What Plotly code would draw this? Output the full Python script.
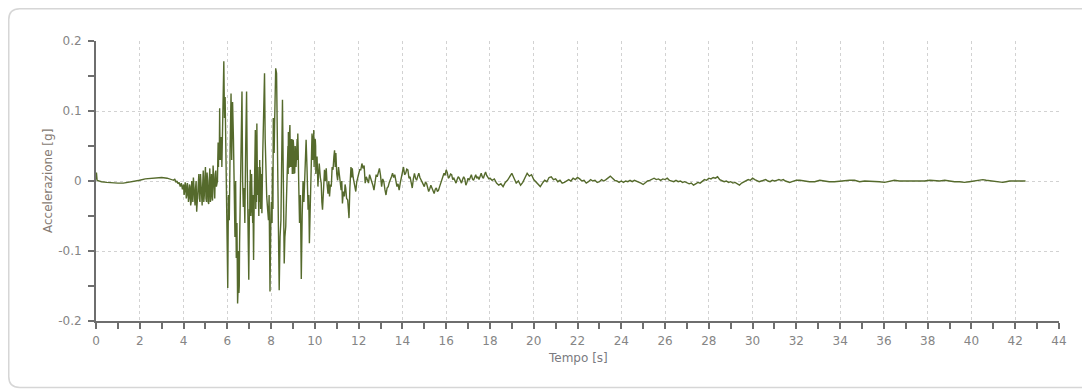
import plotly.graph_objects as go

# ---------------- data ----------------
pre_t = [0.0, 0.02, 0.05, 0.25, 0.5, 0.75, 1.0, 1.25, 1.5, 1.75, 2.0, 2.25, 2.5, 2.75, 3.0, 3.25]
pre_a = [0.002, 0.012, 0.001, -0.001, -0.002, -0.003, -0.003, -0.003, -0.002, -0.001, 0.001, 0.003,
         0.004, 0.005, 0.005, 0.004]

onset_t = [3.5, 3.55, 3.6, 3.65, 3.7, 3.75, 3.8, 3.85, 3.9, 3.95, 4.0, 4.05, 4.1, 4.15, 4.2, 4.25,
           4.3, 4.35, 4.4, 4.45, 4.5, 4.55, 4.6, 4.65, 4.7, 4.75, 4.8, 4.85, 4.9, 4.95, 5.0, 5.05,
           5.1, 5.15, 5.2, 5.25, 5.3, 5.35, 5.4, 5.45, 5.5]
onset_a = [0.002, 0.001, 0.003, -0.002, 0.0, -0.004, -0.002, -0.008, -0.003, -0.012, -0.005, -0.015,
           -0.006, -0.02, -0.01, -0.025, -0.008, -0.03, -0.012, 0.005, -0.028, -0.01, -0.044, -0.015,
           0.01, -0.03, -0.005, -0.035, 0.015, -0.02, 0.02, -0.03, 0.0, -0.033, 0.018, -0.025,
           -0.005, 0.022, -0.02, 0.01, -0.008]

strong_t = [5.55, 5.58, 5.62, 5.65, 5.68, 5.72, 5.76, 5.80, 5.84, 5.87, 5.90, 5.94, 5.98, 6.02, 6.05,
            6.09, 6.13, 6.17, 6.20, 6.24, 6.28, 6.31, 6.35, 6.38, 6.41, 6.44, 6.47, 6.50, 6.53, 6.56,
            6.60, 6.63, 6.67, 6.70, 6.73, 6.77, 6.80, 6.84, 6.88, 6.91, 6.94, 6.98, 7.01, 7.05, 7.08,
            7.11, 7.13, 7.16, 7.20, 7.23, 7.26, 7.28, 7.31, 7.35, 7.39, 7.43, 7.46, 7.50, 7.53, 7.56,
            7.58, 7.62, 7.66, 7.70, 7.73, 7.76, 7.80, 7.84, 7.88, 7.91, 7.95, 7.99, 8.03, 8.06, 8.10,
            8.14, 8.18, 8.21, 8.25, 8.28, 8.30, 8.34, 8.37, 8.41, 8.45, 8.48, 8.52, 8.56, 8.60, 8.63,
            8.67, 8.71, 8.75, 8.79, 8.83, 8.86, 8.90, 8.93, 8.97, 9.01, 9.05, 9.08, 9.12, 9.16, 9.19,
            9.22, 9.26, 9.30, 9.34, 9.38, 9.42, 9.46, 9.50, 9.55, 9.60, 9.64, 9.69, 9.72, 9.75, 9.78,
            9.80, 9.84, 9.87, 9.91, 9.95, 9.98, 10.02, 10.06, 10.10, 10.14, 10.17, 10.20, 10.25,
            10.29, 10.32, 10.35, 10.40, 10.44, 10.48, 10.52, 10.56, 10.60, 10.64, 10.67, 10.71,
            10.75, 10.79, 10.83, 10.87, 10.90, 10.93, 10.96, 11.00, 11.04, 11.08, 11.11, 11.15,
            11.20, 11.23, 11.26, 11.30, 11.35, 11.38, 11.41, 11.45, 11.50, 11.53, 11.56, 11.60,
            11.65, 11.68, 11.71, 11.75, 11.80, 11.84, 11.87, 11.91, 11.94, 12.00, 12.05]
strong_a = [0.0, 0.055, 0.03, 0.104, 0.045, 0.063, 0.04, 0.15, 0.171, 0.09, 0.12, 0.03, -0.06, -0.153,
            -0.02, -0.056, 0.05, 0.125, 0.03, 0.113, 0.06, -0.03, -0.08, 0.0, -0.11, -0.06, -0.175,
            -0.12, -0.16, -0.09, -0.065, 0.02, 0.128, 0.0, -0.037, -0.01, -0.06, 0.05, 0.128, 0.02,
            -0.07, -0.141, -0.04, 0.016, -0.03, 0.01, -0.027, -0.06, -0.113, -0.02, 0.03, 0.073,
            -0.01, 0.082, 0.01, -0.022, 0.03, 0.02, -0.03, 0.01, -0.046, 0.04, 0.125, 0.154, 0.06,
            0.02, -0.022, -0.04, -0.056, -0.02, -0.158, -0.05, -0.046, 0.02, 0.09, 0.04, 0.13, 0.161,
            0.154, 0.08, 0.03, -0.04, -0.156, -0.08, -0.056, 0.02, 0.116, 0.0, -0.118, -0.08, -0.065,
            -0.01, 0.03, 0.07, 0.02, 0.08, 0.03, 0.04, 0.01, 0.059, 0.02, 0.011, 0.04, 0.035, 0.06,
            0.068, 0.0, -0.06, -0.02, -0.14, -0.05, 0.0, -0.03, 0.03, 0.059, 0.02, -0.041, -0.02,
            -0.089, -0.05, -0.027, 0.03, 0.068, 0.05, 0.073, 0.04, 0.059, 0.02, 0.035, -0.008, 0.01,
            0.025, 0.005, -0.003, -0.03, -0.041, -0.01, 0.016, 0.0, 0.018, -0.005, -0.018, 0.0,
            -0.022, -0.005, -0.008, 0.02, 0.016, 0.035, 0.044, 0.02, 0.04, 0.01, 0.001, 0.02, 0.011,
            -0.005, -0.013, 0.0, -0.032, -0.015, -0.022, -0.005, -0.01, -0.025, -0.027, -0.04, -0.053,
            -0.01, 0.02, 0.005, 0.018, 0.005, -0.003, -0.01, -0.015, -0.002, 0.001, 0.01, 0.016]

# extra high-frequency samples inside the dense (thick-looking) bands of the record
band_t = [4.025, 4.075, 4.125, 4.175, 4.225, 4.275, 4.325, 4.375, 4.425, 4.475, 4.525, 4.575, 4.625,
          4.675, 4.725, 4.775, 4.825, 4.875, 4.925, 4.975, 5.025, 5.075, 5.125, 5.175, 5.225, 5.275,
          5.325, 5.375, 5.425, 5.475,
          5.565, 5.57, 5.595, 5.605, 5.635, 5.66, 5.67, 5.695, 5.705, 5.74, 5.75, 5.78,
          6.455, 6.485, 6.515, 6.545, 6.575,
          7.015, 7.025, 7.035, 7.045, 7.065, 7.075, 7.09, 7.10, 7.12, 7.145, 7.17, 7.185, 7.215,
          7.24, 7.25, 7.295, 7.30, 7.32, 7.33, 7.37, 7.38, 7.40, 7.41, 7.42, 7.44, 7.45, 7.47, 7.48,
          7.49, 7.51, 7.52, 7.54, 7.55, 7.57,
          8.015, 8.045, 8.075, 8.085, 8.12, 8.16,
          8.69, 8.73, 8.77, 8.78, 8.81, 8.82, 8.845, 8.85, 8.875, 8.885, 8.915, 8.925, 8.95, 8.96,
          8.99, 9.00, 9.03, 9.04, 9.065, 9.10, 9.14, 9.175, 9.205, 9.235,
          9.855, 9.885, 9.895, 9.925, 9.935, 9.965, 9.99, 10.00, 10.035, 10.045]
band_a = [-0.02, -0.002, -0.025, -0.003, -0.03, -0.005, -0.035, 0.0, -0.03, -0.015, -0.035, 0.0,
          -0.03, -0.002, -0.025, 0.01, -0.03, -0.005, -0.03, 0.005, -0.025, 0.012, -0.03, 0.0,
          -0.03, 0.01, -0.028, 0.0, -0.025, 0.015,
          0.03, 0.05, 0.02, 0.05, 0.04, 0.07, 0.03, 0.06, 0.03, 0.05, 0.02, 0.07,
          -0.1, -0.16, -0.1, -0.15, -0.06,
          -0.01, -0.05, 0.0, -0.04, -0.01, -0.05, 0.0, -0.045, -0.01, -0.05, -0.02, -0.08, -0.06,
          0.0, -0.04, 0.02, -0.04, 0.03, -0.03, 0.04, -0.02, 0.02, -0.04, 0.0, -0.05, 0.0, -0.03,
          0.03, -0.02, 0.01, -0.04, 0.0, -0.035, 0.0,
          -0.03, -0.06, 0.0, -0.04, 0.06, 0.08,
          -0.04, 0.02, 0.05, 0.01, 0.06, 0.02, 0.07, 0.03, 0.06, 0.02, 0.06, 0.02, 0.06, 0.02,
          0.05, 0.02, 0.05, 0.01, 0.04, 0.05, 0.02, 0.05, 0.03, 0.05,
          0.04, 0.03, 0.065, 0.03, 0.07, 0.02, 0.06, 0.03, 0.05, 0.01]

coda_t = [12.10, 12.15, 12.20, 12.25, 12.30, 12.35, 12.40, 12.45, 12.50, 12.55, 12.60, 12.65, 12.70,
          12.75, 12.80, 12.85, 12.90, 12.95, 13.00, 13.05, 13.10, 13.15, 13.20, 13.25, 13.30, 13.35,
          13.40, 13.45, 13.50, 13.55, 13.60, 13.65, 13.70, 13.75, 13.80, 13.85, 13.90, 13.95, 14.00,
          14.05, 14.10, 14.15, 14.20, 14.25, 14.30, 14.35, 14.40, 14.45, 14.50, 14.55, 14.60, 14.65,
          14.70, 14.75, 14.80, 14.85, 14.90, 14.95, 15.00, 15.05, 15.10, 15.15, 15.20, 15.25, 15.30,
          15.35, 15.40, 15.45, 15.50, 15.55, 15.60, 15.65, 15.70, 15.75, 15.80, 15.85, 15.90, 15.95,
          16.00, 16.05, 16.10, 16.15, 16.20, 16.25, 16.30, 16.35, 16.40, 16.45, 16.50, 16.55, 16.60,
          16.65, 16.70, 16.75, 16.80, 16.85, 16.90, 16.95, 17.00, 17.05, 17.10, 17.15, 17.20, 17.25,
          17.30, 17.35, 17.40, 17.45, 17.50, 17.55, 17.60, 17.65, 17.70, 17.75, 17.80, 17.85, 17.90,
          17.95]
coda_a = [0.016, 0.025, 0.018, 0.022, -0.003, 0.006, 0.001, -0.003, 0.009, 0.004, 0.001, -0.006,
          -0.013, 0.002, 0.009, 0.006, 0.013, 0.018, 0.008, -0.008, 0.003, -0.001, -0.012, -0.02,
          -0.01, -0.008, -0.002, 0.001, 0.006, 0.011, 0.005, 0.009, 0.002, -0.008, -0.004, -0.013,
          -0.003, 0.006, 0.012, 0.02, 0.009, 0.011, 0.017, 0.016, 0.004, 0.006, -0.002, -0.01, 0.003,
          0.011, 0.004, 0.001, 0.007, 0.011, 0.005, 0.002, -0.001, -0.005, -0.008, -0.002, -0.003,
          -0.009, -0.015, -0.011, -0.006, -0.01, -0.014, -0.018, -0.012, -0.01, -0.015, -0.013,
          -0.008, -0.003, 0.001, 0.005, 0.011, 0.008, 0.016, 0.012, 0.004, 0.006, 0.01, 0.009, 0.002,
          0.004, 0.001, -0.003, 0.002, 0.006, 0.004, -0.001, -0.003, 0.002, 0.006, 0.003, -0.006,
          -0.002, 0.004, 0.001, 0.007, 0.009, 0.003, 0.001, 0.005, 0.009, 0.004, 0.006, 0.002, 0.007,
          0.011, 0.006, 0.004, 0.009, 0.013, 0.008, 0.006, 0.003]

late_t = [18.0, 18.1, 18.2, 18.3, 18.4, 18.5, 18.6, 18.7, 18.8, 18.9, 19.0, 19.1, 19.2, 19.3, 19.4,
          19.5, 19.6, 19.7, 19.8, 19.9, 20.0, 20.1, 20.2, 20.3, 20.4, 20.5, 20.6, 20.7, 20.8, 20.9,
          21.0, 21.1, 21.2, 21.3, 21.4, 21.5, 21.6, 21.7, 21.8, 21.9, 22.0, 22.1, 22.2, 22.3, 22.4,
          22.5, 22.6, 22.7, 22.8, 22.9, 23.0, 23.1, 23.2, 23.3, 23.4, 23.5, 23.6, 23.7, 23.8, 23.9,
          24.0, 24.1, 24.2, 24.3, 24.4, 24.5, 24.6, 24.7, 24.8, 24.9, 25.0, 25.1, 25.2, 25.3, 25.4,
          25.5, 25.6, 25.7, 25.8, 25.9, 26.0, 26.1, 26.2, 26.3, 26.4, 26.5, 26.6, 26.7, 26.8, 26.9,
          27.0, 27.1, 27.2, 27.3, 27.4, 27.5, 27.6, 27.7, 27.8, 27.9, 28.0, 28.1, 28.2, 28.3, 28.4,
          28.5, 28.6, 28.7, 28.8, 28.9, 29.0, 29.1, 29.2, 29.3, 29.4, 29.5, 29.6, 29.7, 29.8, 29.9,
          30.0, 30.1, 30.2, 30.3, 30.4, 30.5, 30.6, 30.7, 30.8, 30.9, 31.0, 31.1, 31.2, 31.3, 31.4,
          31.5, 31.6, 31.7, 31.8, 31.9, 32.0]
late_a = [0.004, 0.001, 0.003, -0.003, -0.006, -0.004, -0.008, -0.002, 0.001, 0.006, 0.011, 0.004,
          -0.003, 0.0, -0.006, -0.002, 0.005, 0.011, 0.007, 0.009, 0.002, -0.001, -0.005, -0.008,
          -0.003, 0.001, -0.001, 0.005, 0.006, 0.002, 0.003, -0.001, 0.001, -0.003, -0.002, 0.0,
          0.002, 0.0, 0.004, 0.002, 0.005, 0.003, 0.0, 0.001, -0.003, -0.001, 0.002, 0.0, 0.001,
          -0.002, -0.001, 0.002, 0.0, 0.002, 0.004, 0.007, 0.004, 0.001, 0.0, -0.002, 0.0, -0.002,
          0.0, -0.001, 0.001, -0.001, 0.001, 0.0, -0.002, -0.003, -0.005, -0.002, 0.0, 0.001, 0.003,
          0.004, 0.002, 0.003, 0.001, 0.003, 0.002, 0.004, 0.001, 0.0, -0.001, 0.001, -0.001, 0.0,
          -0.002, -0.001, -0.002, -0.004, -0.003, -0.006, -0.004, -0.002, -0.003, 0.0, 0.002, 0.001,
          0.004, 0.003, 0.005, 0.004, 0.006, 0.002, 0.001, -0.001, 0.0, -0.002, -0.001, -0.003,
          -0.002, -0.004, -0.006, -0.003, -0.001, 0.001, 0.002, 0.001, 0.004, 0.002, 0.001, -0.001,
          0.0, 0.001, 0.002, 0.0, -0.001, 0.001, 0.0, 0.001, 0.002, 0.001, 0.002, 0.0, -0.001,
          -0.002, -0.001, 0.0, 0.001]

tail_t = [32.16, 32.38, 32.60, 32.84, 33.07, 33.28, 33.50, 33.74, 33.98, 34.20, 34.43, 34.66, 34.89,
          35.12, 35.35, 35.58, 35.80, 36.03, 36.26, 36.48, 36.70, 36.94, 37.17, 37.38, 37.60, 37.85,
          38.10, 38.32, 38.55, 38.78, 39.00, 39.23, 39.46, 39.68, 39.90, 40.13, 40.37, 40.52, 40.67,
          40.90, 41.13, 41.28, 41.43, 41.58, 41.74, 42.04, 42.47]
tail_a = [0.001, 0.0, -0.001, -0.001, 0.001, 0.0, -0.001, -0.001, 0.0, 0.0, 0.001, 0.001, -0.001,
          0.0, 0.0, -0.001, -0.001, -0.002, 0.0, 0.001, 0.0, 0.0, -0.001, -0.001, 0.0, 0.0, 0.001,
          0.0, 0.0, 0.001, 0.0, -0.001, -0.001, -0.002, -0.001, 0.0, 0.001, 0.002, 0.001, 0.0,
          -0.001, -0.002, -0.002, -0.001, 0.0, 0.0, 0.0]

x_ticks = list(range(0, 46, 2))
y_ticks = [-0.2, -0.1, 0.0, 0.1, 0.2]
y_tick_text = ["-0.2", "-0.1", "0", "0.1", "0.2"]

pairs = sorted(zip(pre_t + onset_t + strong_t + band_t + coda_t + late_t + tail_t,
                   pre_a + onset_a + strong_a + band_a + coda_a + late_a + tail_a))
time_s = [p[0] for p in pairs]
accel_g = [p[1] for p in pairs]

# ---------------- figure ----------------
# the page body has an 8px default margin, so the figure is 8px smaller
OFF = 8
W, H = 1090 - OFF, 390 - OFF
L, R, T, B = 96 - OFF, 31, 41 - OFF, 69
PW, PH = W - L - R, H - T - B

def px(xp):
    return (xp - L) / PW

def py(yp):
    return (H - B - yp) / PH

fig = go.Figure()
fig.add_trace(go.Scatter(x=time_s, y=accel_g, mode="lines",
                         line=dict(color="#556a2c", width=1.4), hoverinfo="skip",
                         showlegend=False))

# rounded card outline (figure pixel coords)
x0, y0, x1, y1, r = 0.75, 0.75, 1100, 379.5, 11
path = (f"M {px(x0)},{py(y0 + r)} Q {px(x0)},{py(y0)} {px(x0 + r)},{py(y0)} "
        f"L {px(x1)},{py(y0)} L {px(x1)},{py(y1)} L {px(x0 + r)},{py(y1)} "
        f"Q {px(x0)},{py(y1)} {px(x0)},{py(y1 - r)} Z")
fig.add_shape(type="path", path=path, xref="paper", yref="paper",
              line=dict(color="#d6d6d6", width=1.5), layer="below")

tick_font = dict(family="DejaVu Sans", size=12, color="#858585")
axis_common = dict(showline=True, linecolor="#6e6e6e", linewidth=2, ticks="outside",
                   ticklen=6, tickwidth=2, tickcolor="#6e6e6e", showgrid=True,
                   gridcolor="#d2d2d2", griddash="3px,3px", gridwidth=1, zeroline=False,
                   tickfont=tick_font)

fig.update_xaxes(range=[0, 44], tickmode="array", tickvals=x_ticks,
                 ticktext=[str(v) for v in x_ticks],
                 minor=dict(dtick=1, tick0=0, ticks="outside", ticklen=6, tickwidth=2,
                            tickcolor="#6e6e6e", showgrid=False),
                 ticklabelstandoff=2, **axis_common)
fig.update_yaxes(range=[-0.2, 0.2], tickmode="array", tickvals=y_ticks, ticktext=y_tick_text,
                 minor=dict(dtick=0.05, tick0=0, ticks="outside", ticklen=6, tickwidth=2,
                            tickcolor="#6e6e6e", showgrid=False),
                 ticklabelstandoff=4, **axis_common)

fig.add_annotation(text="Accelerazione [g]", xref="paper", yref="paper", x=0, y=0.5,
                   xshift=-48, textangle=-90, showarrow=False, xanchor="center", yanchor="middle",
                   font=dict(family="DejaVu Sans", size=12, color="#857a72"))
fig.add_annotation(text="Tempo [s]", xref="paper", yref="paper", x=0.5, y=0,
                   yshift=-37, showarrow=False, xanchor="center", yanchor="middle",
                   font=dict(family="DejaVu Sans", size=12, color="#7a7a80"))

fig.update_layout(width=W, height=H, margin=dict(l=L, r=R, t=T, b=B),
                  paper_bgcolor="white", plot_bgcolor="white", showlegend=False)

fig.write_html("out.html")
